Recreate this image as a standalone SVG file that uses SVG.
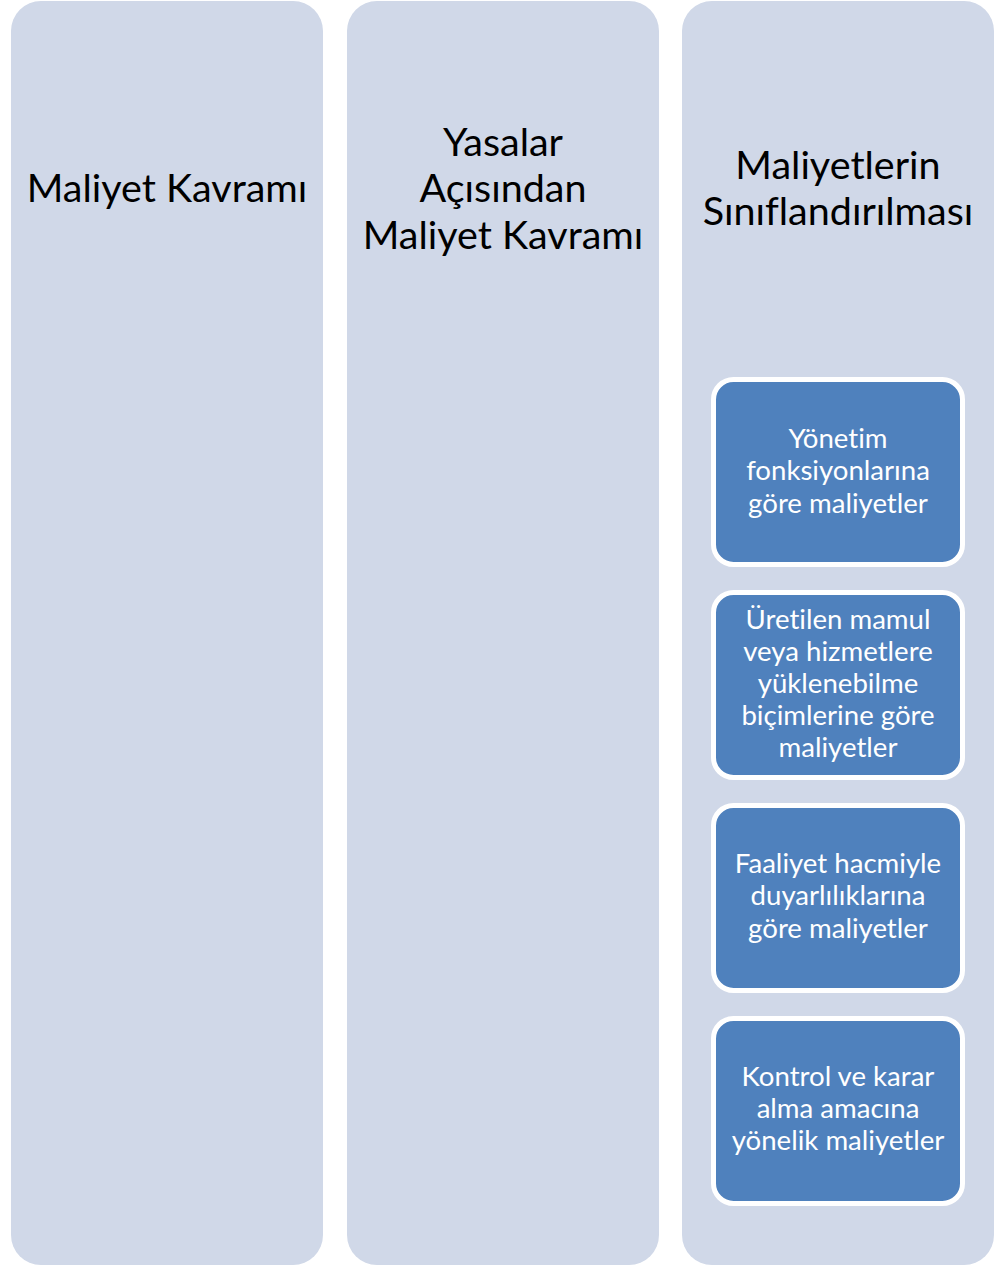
<svg xmlns="http://www.w3.org/2000/svg" width="1000" height="1266" viewBox="0 0 1000 1266">
  <style>
    .col { fill: #D0D8E8; }
    .box { fill: #4F81BD; stroke: #FFFFFF; stroke-width: 5; }
    .head { font-family: Lato, "Open Sans", "Liberation Sans", sans-serif; font-size: 39.5px; fill: #000000; text-anchor: middle; font-variant-ligatures: none; }
    .item { font-family: Lato, "Open Sans", "Liberation Sans", sans-serif; font-size: 27.6px; fill: #FFFFFF; text-anchor: middle; font-variant-ligatures: none; }
  </style>
  <rect width="1000" height="1266" fill="#FFFFFF"/>

  <g id="col-maliyet-kavrami">
    <rect class="col" x="11" y="1" width="312" height="1264" rx="30" ry="30"/>
    <text class="head" x="167" y="202">Maliyet Kavramı</text>
  </g>

  <g id="col-yasalar">
    <rect class="col" x="347" y="1" width="312" height="1264" rx="30" ry="30"/>
    <text class="head" x="503" y="156">Yasalar</text>
    <text class="head" x="503" y="202">Açısından</text>
    <text class="head" x="503" y="249">Maliyet Kavramı</text>
  </g>

  <g id="col-siniflandirma">
    <rect class="col" x="682" y="1" width="312" height="1264" rx="30" ry="30"/>
    <text class="head" x="838" y="179">Maliyetlerin</text>
    <text class="head" x="838" y="225">Sınıflandırılması</text>
  </g>

  <g id="box-yonetim">
    <rect class="box" x="713.5" y="379.5" width="249" height="185" rx="20" ry="20"/>
    <text class="item" x="838" y="448">Yönetim</text>
    <text class="item" x="838" y="480">fonksiyonlarına</text>
    <text class="item" x="838" y="513">göre maliyetler</text>
  </g>

  <g id="box-uretilen">
    <rect class="box" x="713.5" y="592.5" width="249" height="185" rx="20" ry="20"/>
    <text class="item" x="838" y="629">Üretilen mamul</text>
    <text class="item" x="838" y="661">veya hizmetlere</text>
    <text class="item" x="838" y="693">yüklenebilme</text>
    <text class="item" x="838" y="725">biçimlerine göre</text>
    <text class="item" x="838" y="757">maliyetler</text>
  </g>

  <g id="box-faaliyet">
    <rect class="box" x="713.5" y="805.5" width="249" height="185" rx="20" ry="20"/>
    <text class="item" x="838" y="873">Faaliyet hacmiyle</text>
    <text class="item" x="838" y="905">duyarlılıklarına</text>
    <text class="item" x="838" y="938">göre maliyetler</text>
  </g>

  <g id="box-kontrol">
    <rect class="box" x="713.5" y="1018.5" width="249" height="185" rx="20" ry="20"/>
    <text class="item" x="838" y="1086">Kontrol ve karar</text>
    <text class="item" x="838" y="1118">alma amacına</text>
    <text class="item" x="838" y="1150">yönelik maliyetler</text>
  </g>

  <g id="connectors"/>
</svg>
